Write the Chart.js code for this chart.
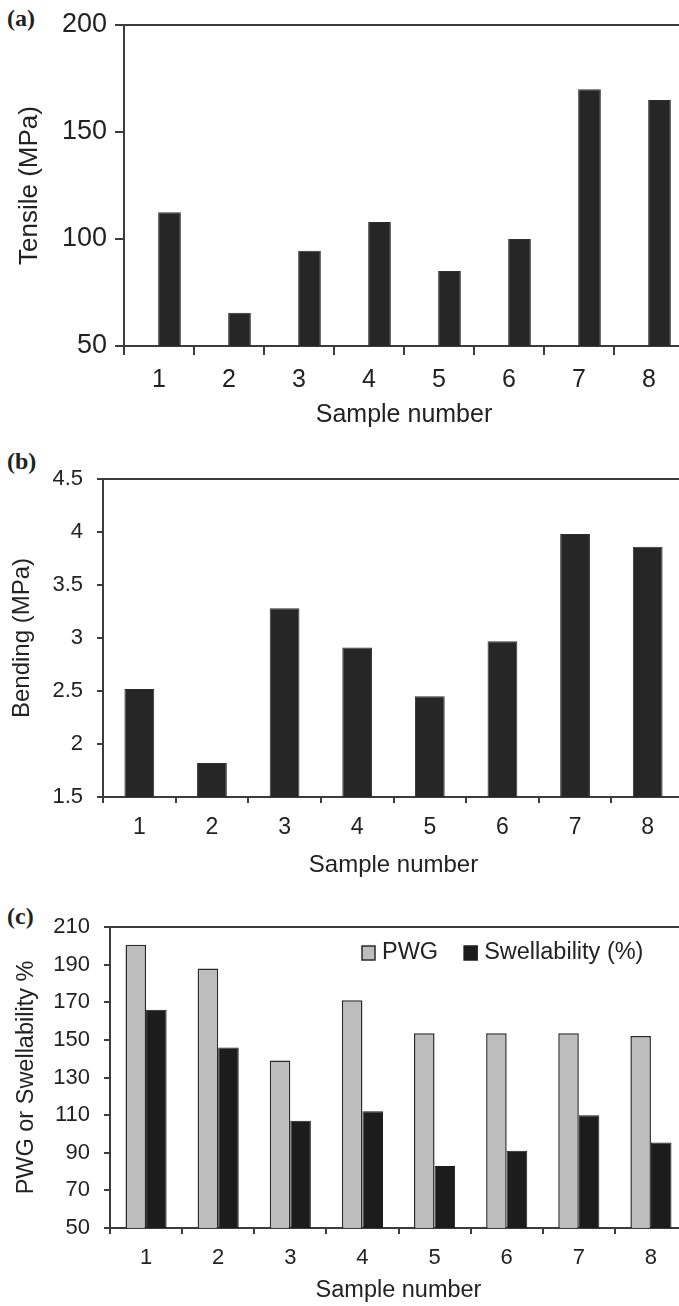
<!DOCTYPE html>
<html>
<head>
<meta charset="utf-8">
<script src="https://cdn.jsdelivr.net/npm/chart.js@4.4.1/dist/chart.umd.min.js"></script>
<style>
    html, body { margin: 0; padding: 0; background: #fff; overflow: hidden; width: 679px; height: 1306px; }
    .panel { position: absolute; left: 0; }
    .tag { position: absolute; left: 7px; font: bold 24px "Liberation Serif", "Times New Roman", serif; color: #222; line-height: 1; }
</style>
</head>
<body>
<div class="tag" style="top:6px">(a)</div>
<canvas id="tensileChart" class="panel" width="692" height="440" style="top:0px"></canvas>
<div class="tag" style="top:449px">(b)</div>
<canvas id="bendingChart" class="panel" width="692" height="440" style="top:440px"></canvas>
<div class="tag" style="top:904px">(c)</div>
<canvas id="pwgChart" class="panel" width="692" height="431" style="top:875px"></canvas>
<script>
// values
const samples = ['1', '2', '3', '4', '5', '6', '7', '8'];
const tensile = [112.5, 65.5, 94.5, 108, 85, 100, 170, 165];
const bending = [2.52, 1.82, 3.28, 2.91, 2.45, 2.97, 3.98, 3.86];
const pwg = [200.5, 188, 139, 171, 153.5, 153.5, 153.5, 152];
const swellability = [166, 146, 107, 112, 83, 91, 110, 95.5];

const tensileTicks = [50, 100, 150, 200];
const bendingTicks = [1.5, 2, 2.5, 3, 3.5, 4, 4.5];
const pwgTicks = [50, 70, 90, 110, 130, 150, 170, 190, 210];

const fontFamily = '"Liberation Sans", Arial, sans-serif';
const axisColor = '#3c3c3c';
const textColor = '#222';

// top + right edge of the plot box
const framePlugin = {
    id: 'frame',
    afterDraw: chart => {
        const { ctx, chartArea: a } = chart;
        ctx.save();
        ctx.strokeStyle = axisColor;
        ctx.lineWidth = 2;
        ctx.beginPath();
        ctx.moveTo(a.left, a.top);
        ctx.lineTo(a.right, a.top);
        ctx.lineTo(a.right, a.bottom);
        ctx.stroke();
        ctx.restore();
    }
};

// legend drawn inside the plot area, in one row
const insideLegend = {
    id: 'insideLegend',
    afterDraw: chart => {
        const { ctx, chartArea: a } = chart;
        let x = a.left + 252;
        const y = a.top + 26;
        ctx.save();
        ctx.font = '23.5px ' + fontFamily;
        ctx.textBaseline = 'middle';
        chart.data.datasets.forEach(ds => {
            ctx.fillStyle = ds.backgroundColor;
            ctx.strokeStyle = ds.borderColor;
            ctx.lineWidth = 1.5;
            ctx.fillRect(x, y - 7, 13, 14);
            ctx.strokeRect(x, y - 7, 13, 14);
            x += 20;
            ctx.fillStyle = textColor;
            ctx.fillText(ds.label, x, y);
            x += ctx.measureText(ds.label).width + 26;
        });
        ctx.restore();
    }
};

const makeScales = (cfg) => ({
    x: {
        afterFit: s => { s.height = cfg.xHeight; },
        grid: { display: true, drawOnChartArea: false, offset: true, color: axisColor, lineWidth: 2, tickLength: cfg.tick, tickColor: axisColor },
        border: { display: true, color: axisColor, width: 2 },
        ticks: { color: textColor, font: { family: fontFamily, size: cfg.xFont }, padding: cfg.xPad, maxRotation: 0 },
        title: { display: true, text: 'Sample number', color: textColor, font: { family: fontFamily, size: cfg.xTitleFont }, padding: { top: 0, bottom: cfg.xTitlePad } }
    },
    y: {
        min: cfg.ticks[0],
        max: cfg.ticks[cfg.ticks.length - 1],
        afterFit: s => { s.width = cfg.yWidth; },
        afterBuildTicks: axis => { axis.ticks = cfg.ticks.map(v => ({ value: v })); },
        grid: { display: true, drawOnChartArea: false, color: axisColor, lineWidth: 2, tickLength: cfg.tick, tickColor: axisColor },
        border: { display: true, color: axisColor, width: 2 },
        ticks: { color: textColor, font: { family: fontFamily, size: cfg.yFont }, padding: cfg.yPad, callback: v => String(v) },
        title: { display: true, text: cfg.yTitle, color: textColor, font: { family: fontFamily, size: cfg.yTitleFont }, padding: { top: cfg.yTitlePad, bottom: 0 } }
    }
});

const baseOptions = (cfg) => ({
    responsive: false,
    animation: false,
    devicePixelRatio: 1,
    layout: { padding: cfg.padding },
    plugins: { legend: { display: false }, tooltip: { enabled: false } },
    scales: makeScales(cfg)
});

// (a) tensile - bars sit right of centre, an empty series holds the left slot
new Chart(document.getElementById('tensileChart').getContext('2d'), {
    type: 'bar',
    data: {
        labels: samples,
        datasets: [
            { label: '', data: samples.map(() => null) },
            { label: 'Tensile', data: tensile, backgroundColor: '#262626', borderColor: '#2e2e2e', borderWidth: 1 }
        ]
    },
    options: Object.assign(baseOptions({
        padding: { top: 25, left: 0, right: 8, bottom: 0 },
        xHeight: 94, tick: 9, xFont: 25, xPad: 10, xTitleFont: 25, xTitlePad: 10,
        yWidth: 124, yFont: 27, yPad: 8, yTitle: 'Tensile (MPa)', yTitleFont: 26, yTitlePad: 14,
        ticks: tensileTicks
    }), {
        datasets: { bar: { categoryPercentage: 0.6, barPercentage: 1.08 } }
    }),
    plugins: [framePlugin]
});

// (b) bending
new Chart(document.getElementById('bendingChart').getContext('2d'), {
    type: 'bar',
    data: {
        labels: samples,
        datasets: [
            { label: 'Bending', data: bending, backgroundColor: '#262626', borderColor: '#2e2e2e', borderWidth: 1 }
        ]
    },
    options: Object.assign(baseOptions({
        padding: { top: 39, left: 0, right: 8, bottom: 0 },
        xHeight: 83, tick: 6, xFont: 23, xPad: 11, xTitleFont: 24, xTitlePad: 0,
        yWidth: 103, yFont: 22, yPad: 14, yTitle: 'Bending (MPa)', yTitleFont: 24, yTitlePad: 8,
        ticks: bendingTicks
    }), {
        datasets: { bar: { categoryPercentage: 0.41, barPercentage: 1 } }
    }),
    plugins: [framePlugin]
});

// (c) PWG and swellability
new Chart(document.getElementById('pwgChart').getContext('2d'), {
    type: 'bar',
    data: {
        labels: samples,
        datasets: [
            { label: 'PWG', data: pwg, backgroundColor: '#bdbdbd', borderColor: '#2a2a2a', borderWidth: 1.5 },
            { label: 'Swellability (%)', data: swellability, backgroundColor: '#1c1c1c', borderColor: '#1c1c1c', borderWidth: 1 }
        ]
    },
    options: Object.assign(baseOptions({
        padding: { top: 52, left: 0, right: 5, bottom: 0 },
        xHeight: 78, tick: 6, xFont: 22, xPad: 11, xTitleFont: 23.5, xTitlePad: 1,
        yWidth: 110, yFont: 22, yPad: 14, yTitle: 'PWG or Swellability %', yTitleFont: 23.5, yTitlePad: 12,
        ticks: pwgTicks
    }), {
        datasets: { bar: { categoryPercentage: 0.57, barPercentage: 1 } }
    }),
    plugins: [framePlugin, insideLegend]
});
</script>
</body>
</html>
